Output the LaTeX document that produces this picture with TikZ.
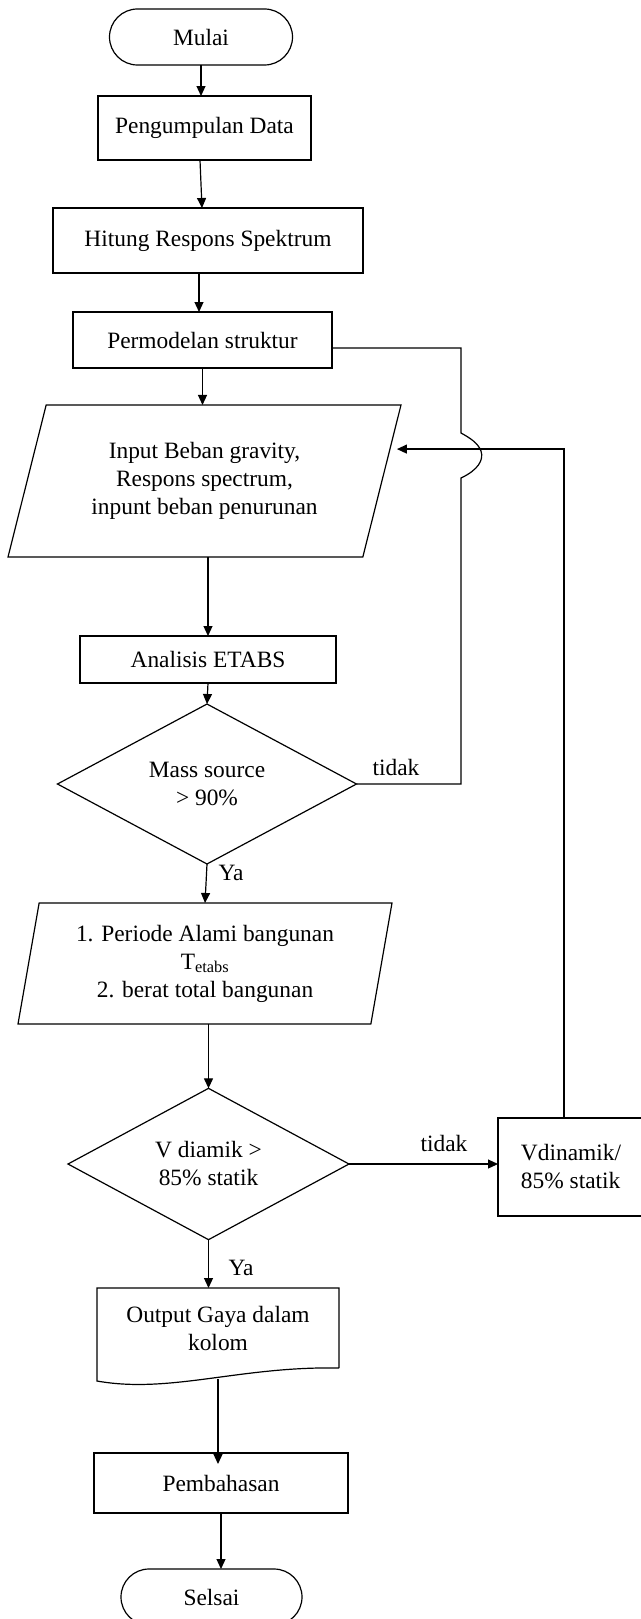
\documentclass[tikz,border=0pt]{standalone}
\usepackage{fontspec}
\setmainfont{Liberation Serif}
\usetikzlibrary{shapes.geometric,arrows.meta,calc}
\begin{document}
\begin{tikzpicture}[x=1pt,y=-1pt,
  every node/.style={font=\fontsize{23.4}{28}\selectfont, inner sep=0pt, outer sep=0pt},
  base/.style={draw, line width=1.2pt, align=center},
  term/.style={base, rectangle, rounded corners=28pt, minimum height=56pt},
  proc/.style={base, rectangle},
  io/.style={base, trapezium, trapezium stretches body},
  dec/.style={base, diamond},
  line/.style={line width=1.2pt},
  arr/.style={line, -{Triangle[length=10pt,width=9pt]}}]
\useasboundingbox (0,0) rectangle (640,1619);

\node[term, minimum width=183pt] (start) at (201,37) {Mulai};
\node[proc, minimum width=213pt, minimum height=64pt] (data) at (204.5,128) {Pengumpulan Data};
\node[proc, minimum width=310pt, minimum height=65pt] (hit) at (208,240.5) {Hitung Respons Spektrum};
\node[proc, minimum width=259pt, minimum height=56pt] (model) at (202.5,340) {Permodelan struktur};
\node[io, trapezium left angle=63.7, trapezium right angle=116.3, minimum width=393pt, minimum height=152pt] (in1) at (204.5,481) {Input Beban gravity,\\Respons spectrum,\\inpunt beban penurunan};
\node[proc, minimum width=256pt, minimum height=47pt] (etabs) at (208,659.5) {Analisis ETABS};
\node[dec, minimum width=299pt, minimum height=149pt] (dec1) at (207,784) {Mass source\\> 90\%};
\node[io, trapezium left angle=74.7, trapezium right angle=105.3, minimum width=374pt, minimum height=121pt] (in2) at (205,963.5) {1. Periode Alami bangunan\\T\textsubscript{etabs}\\2. berat total bangunan};
\node[dec, minimum width=281pt, minimum height=146pt] (dec2) at (208.5,1164) {V diamik >\\85\% statik};
\node[proc, minimum width=146pt, minimum height=98pt, align=left] (vdin) at (571,1167) {Vdinamik/\\85\% statik};
\node[minimum width=242pt, minimum height=80pt, align=center, anchor=north] (out) at (218,1288) {Output Gaya dalam\\kolom};
\draw[line] (out.south east) -- (out.north east) -- (out.north west) -- ++(0,93) .. controls +(73,13) and +(-99,-2) .. (out.south east);
\node[proc, minimum width=254pt, minimum height=60pt] (pemb) at (221,1483) {Pembahasan};
\node[term, minimum width=181pt] (end) at (211.5,1597) {Selsai};

\node (ya1) at (231,873) {Ya};
\node (ya2) at (241,1268) {Ya};
\node (no1) at (396,767) {tidak};
\node (no2) at (444,1143) {tidak};

\draw[arr] (start.south) -- (start.south |- data.north);
\draw[arr] ([xshift=-4.5pt]data.south) -- ([xshift=-6pt]hit.north);
\draw[arr] ([xshift=-9pt]hit.south) -- ([xshift=-9pt]hit.south |- model.north);
\draw[arr] (model.south) -- (model.south |- in1.north);
\draw[arr] (etabs.north |- in1.south) -- (etabs.north);
\draw[arr] (etabs.south) -- (dec1.north);
\draw[arr] (dec1.south) -- (in2.north);
\draw[arr] (dec2.north |- in2.south) -- (dec2.north);
\draw[arr] (dec2.south) -- (dec2.south |- out.north);
\draw[arr] ([yshift=-11pt]out.south) -- ([yshift=-11pt]out.south |- pemb.north);
\draw[arr] (pemb.south) -- (pemb.south |- end.north);
\draw[arr] (dec2.east) -- (vdin.west |- dec2.east);

\coordinate (j1) at (461,478);
\coordinate (j2) at (461,433);
\draw[line] (dec1.east) -| (j1) .. controls (478,470) and (484,460) .. (481,451) .. controls (478,443) and (470,438) .. (j2) |- ([yshift=-8pt]model.east);
\draw[arr, shorten >=7pt] ([xshift=-7pt]vdin.north) |- ($(in1.top right corner)!0.29!(in1.bottom right corner)$);
\end{tikzpicture}
\end{document}
